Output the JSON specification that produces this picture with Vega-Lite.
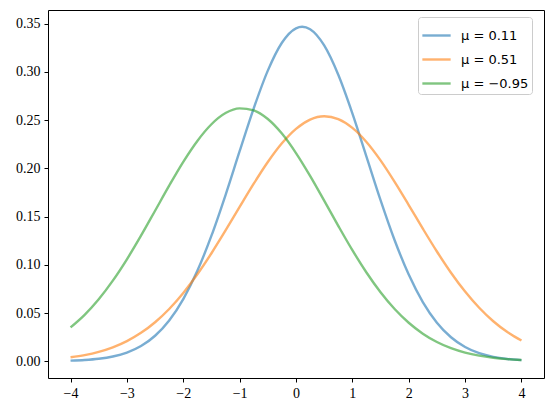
{
  "$schema": "https://vega.github.io/schema/vega-lite/v6.json",
  "width": 496,
  "height": 368,
  "autosize": {"type": "none"},
  "padding": {"left": 48, "top": 10, "right": 10, "bottom": 37},
  "background": "white",
  "config": {
    "view": {"stroke": "#000000", "strokeWidth": 1}
  },
  "data": {"values": [
    {"x": -4, "y": 0.000585, "s": "μ = 0.11"},
    {"x": -3.75, "y": 0.001241, "s": "μ = 0.11"},
    {"x": -3.5, "y": 0.002515, "s": "μ = 0.11"},
    {"x": -3.25, "y": 0.004861, "s": "μ = 0.11"},
    {"x": -3, "y": 0.008957, "s": "μ = 0.11"},
    {"x": -2.75, "y": 0.01574, "s": "μ = 0.11"},
    {"x": -2.5, "y": 0.02641, "s": "μ = 0.11"},
    {"x": -2.25, "y": 0.04225, "s": "μ = 0.11"},
    {"x": -2, "y": 0.06447, "s": "μ = 0.11"},
    {"x": -1.75, "y": 0.09381, "s": "μ = 0.11"},
    {"x": -1.5, "y": 0.1302, "s": "μ = 0.11"},
    {"x": -1.25, "y": 0.1724, "s": "μ = 0.11"},
    {"x": -1, "y": 0.2178, "s": "μ = 0.11"},
    {"x": -0.75, "y": 0.2623, "s": "μ = 0.11"},
    {"x": -0.5, "y": 0.3014, "s": "μ = 0.11"},
    {"x": -0.25, "y": 0.3303, "s": "μ = 0.11"},
    {"x": 0, "y": 0.3453, "s": "μ = 0.11"},
    {"x": 0.11, "y": 0.3469, "s": "μ = 0.11"},
    {"x": 0.25, "y": 0.3443, "s": "μ = 0.11"},
    {"x": 0.5, "y": 0.3275, "s": "μ = 0.11"},
    {"x": 0.75, "y": 0.2971, "s": "μ = 0.11"},
    {"x": 1, "y": 0.2571, "s": "μ = 0.11"},
    {"x": 1.25, "y": 0.2122, "s": "μ = 0.11"},
    {"x": 1.5, "y": 0.1671, "s": "μ = 0.11"},
    {"x": 1.75, "y": 0.1255, "s": "μ = 0.11"},
    {"x": 2, "y": 0.0899, "s": "μ = 0.11"},
    {"x": 2.25, "y": 0.0614, "s": "μ = 0.11"},
    {"x": 2.5, "y": 0.0400, "s": "μ = 0.11"},
    {"x": 2.75, "y": 0.02488, "s": "μ = 0.11"},
    {"x": 3, "y": 0.01475, "s": "μ = 0.11"},
    {"x": 3.25, "y": 0.00834, "s": "μ = 0.11"},
    {"x": 3.5, "y": 0.00450, "s": "μ = 0.11"},
    {"x": 3.75, "y": 0.00232, "s": "μ = 0.11"},
    {"x": 4, "y": 0.00114, "s": "μ = 0.11"},
    {"x": -4, "y": 0.00410, "s": "μ = 0.51"},
    {"x": -3.75, "y": 0.00640, "s": "μ = 0.51"},
    {"x": -3.5, "y": 0.00974, "s": "μ = 0.51"},
    {"x": -3.25, "y": 0.01444, "s": "μ = 0.51"},
    {"x": -3, "y": 0.02088, "s": "μ = 0.51"},
    {"x": -2.75, "y": 0.02943, "s": "μ = 0.51"},
    {"x": -2.5, "y": 0.04045, "s": "μ = 0.51"},
    {"x": -2.25, "y": 0.05420, "s": "μ = 0.51"},
    {"x": -2, "y": 0.07080, "s": "μ = 0.51"},
    {"x": -1.75, "y": 0.09018, "s": "μ = 0.51"},
    {"x": -1.5, "y": 0.1120, "s": "μ = 0.51"},
    {"x": -1.25, "y": 0.1356, "s": "μ = 0.51"},
    {"x": -1, "y": 0.1600, "s": "μ = 0.51"},
    {"x": -0.75, "y": 0.1841, "s": "μ = 0.51"},
    {"x": -0.5, "y": 0.2066, "s": "μ = 0.51"},
    {"x": -0.25, "y": 0.2260, "s": "μ = 0.51"},
    {"x": 0, "y": 0.2410, "s": "μ = 0.51"},
    {"x": 0.25, "y": 0.2506, "s": "μ = 0.51"},
    {"x": 0.5, "y": 0.2541, "s": "μ = 0.51"},
    {"x": 0.75, "y": 0.2511, "s": "μ = 0.51"},
    {"x": 1, "y": 0.2420, "s": "μ = 0.51"},
    {"x": 1.25, "y": 0.2274, "s": "μ = 0.51"},
    {"x": 1.5, "y": 0.2083, "s": "μ = 0.51"},
    {"x": 1.75, "y": 0.1860, "s": "μ = 0.51"},
    {"x": 2, "y": 0.1620, "s": "μ = 0.51"},
    {"x": 2.25, "y": 0.1375, "s": "μ = 0.51"},
    {"x": 2.5, "y": 0.1138, "s": "μ = 0.51"},
    {"x": 2.75, "y": 0.09183, "s": "μ = 0.51"},
    {"x": 3, "y": 0.07224, "s": "μ = 0.51"},
    {"x": 3.25, "y": 0.05542, "s": "μ = 0.51"},
    {"x": 3.5, "y": 0.04144, "s": "μ = 0.51"},
    {"x": 3.75, "y": 0.03021, "s": "μ = 0.51"},
    {"x": 4, "y": 0.02148, "s": "μ = 0.51"},
    {"x": -4, "y": 0.03506, "s": "μ = −0.95"},
    {"x": -3.75, "y": 0.04811, "s": "μ = −0.95"},
    {"x": -3.5, "y": 0.06425, "s": "μ = −0.95"},
    {"x": -3.25, "y": 0.08354, "s": "μ = −0.95"},
    {"x": -3, "y": 0.1057, "s": "μ = −0.95"},
    {"x": -2.75, "y": 0.1302, "s": "μ = −0.95"},
    {"x": -2.5, "y": 0.1561, "s": "μ = −0.95"},
    {"x": -2.25, "y": 0.1821, "s": "μ = −0.95"},
    {"x": -2, "y": 0.2068, "s": "μ = −0.95"},
    {"x": -1.75, "y": 0.2285, "s": "μ = −0.95"},
    {"x": -1.5, "y": 0.2458, "s": "μ = −0.95"},
    {"x": -1.25, "y": 0.2574, "s": "μ = −0.95"},
    {"x": -1, "y": 0.2623, "s": "μ = −0.95"},
    {"x": -0.75, "y": 0.2602, "s": "μ = −0.95"},
    {"x": -0.5, "y": 0.2512, "s": "μ = −0.95"},
    {"x": -0.25, "y": 0.2361, "s": "μ = −0.95"},
    {"x": 0, "y": 0.2159, "s": "μ = −0.95"},
    {"x": 0.25, "y": 0.1922, "s": "μ = −0.95"},
    {"x": 0.5, "y": 0.1665, "s": "μ = −0.95"},
    {"x": 0.75, "y": 0.1404, "s": "μ = −0.95"},
    {"x": 1, "y": 0.1152, "s": "μ = −0.95"},
    {"x": 1.25, "y": 0.09207, "s": "μ = −0.95"},
    {"x": 1.5, "y": 0.07160, "s": "μ = −0.95"},
    {"x": 1.75, "y": 0.05420, "s": "μ = −0.95"},
    {"x": 2, "y": 0.03992, "s": "μ = −0.95"},
    {"x": 2.25, "y": 0.02861, "s": "μ = −0.95"},
    {"x": 2.5, "y": 0.01997, "s": "μ = −0.95"},
    {"x": 2.75, "y": 0.01356, "s": "μ = −0.95"},
    {"x": 3, "y": 0.00897, "s": "μ = −0.95"},
    {"x": 3.25, "y": 0.00577, "s": "μ = −0.95"},
    {"x": 3.5, "y": 0.00361, "s": "μ = −0.95"},
    {"x": 3.75, "y": 0.00220, "s": "μ = −0.95"},
    {"x": 4, "y": 0.00131, "s": "μ = −0.95"}
  ]},
  "mark": {"type": "line", "strokeWidth": 2.4, "opacity": 0.6, "interpolate": "monotone"},
  "encoding": {
    "x": {"field": "x", "type": "quantitative", "scale": {"domain": [-4.4, 4.4], "nice": false, "zero": false},
      "axis": {"title": null, "values": [-4, -3, -2, -1, 0, 1, 2, 3, 4], "format": "d", "grid": false, "domain": false, "tickColor": "#000000", "tickSize": 4, "tickWidth": 1, "labelFont": "Liberation Serif", "labelFontSize": 14, "labelColor": "#000000", "labelPadding": 4}},
    "y": {"field": "y", "type": "quantitative", "scale": {"domain": [-0.0174, 0.3643], "nice": false, "zero": false},
      "axis": {"title": null, "values": [0, 0.05, 0.1, 0.15, 0.2, 0.25, 0.3, 0.35], "format": ".2f", "grid": false, "domain": false, "tickColor": "#000000", "tickSize": 4, "tickWidth": 1, "labelFont": "Liberation Serif", "labelFontSize": 14, "labelColor": "#000000", "labelPadding": 4}},
    "color": {"field": "s", "type": "nominal", "sort": null,
      "scale": {"domain": ["μ = 0.11", "μ = 0.51", "μ = −0.95"], "range": ["#1f77b4", "#ff7f0e", "#2ca02c"]},
      "legend": {"title": null, "orient": "none", "legendX": 370, "legendY": 7, "symbolType": "stroke", "symbolSize": 800, "symbolStrokeWidth": 2.4, "symbolOpacity": 0.6, "labelFont": "DejaVu Sans", "labelFontSize": 13, "labelColor": "#000000", "labelOffset": 9, "rowPadding": 1, "padding": 3, "strokeColor": "#cccccc", "fillColor": "rgba(255,255,255,0.8)", "cornerRadius": 3}
    }
  }
}
